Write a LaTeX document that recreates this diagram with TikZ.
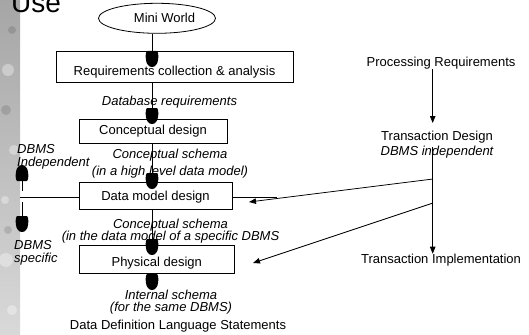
\documentclass[tikz,border=0pt]{standalone}
\usepackage{fontspec}
\setmainfont{Liberation Sans}
\usetikzlibrary{arrows.meta,shapes.geometric}
\begin{document}
\begin{tikzpicture}[x=1pt,y=-1pt,
  every node/.style={font=\fontsize{13}{15}\selectfont, inner sep=0pt, text=black},
  stepbox/.style={draw=black, line width=0.9pt, fill=white, text height=9.4pt, text depth=2.7pt},
  conn/.style={draw=black, line width=0.8pt},
  tri/.style={conn, -{Triangle[length=7pt,width=5.5pt]}},
  lbl/.style={font=\fontsize{13}{12.5}\selectfont\itshape, align=center},
  blob/.pic={\fill[black] (-4.5,-16) -- (4.5,-16) .. controls (6.3,-16) and (6.5,-12) .. (6.2,-8)
      .. controls (5.8,-3) and (3.2,0) .. (0,0) .. controls (-3.2,0) and (-5.8,-3) .. (-6.2,-8)
      .. controls (-6.5,-12) and (-6.3,-16) .. (-4.5,-16) -- cycle;}
]
\useasboundingbox (0,0) rectangle (529,334);
% background strip
\shade[top color=gray!70, bottom color=gray!30] (0,0) rectangle (20,334);
\fill[white, opacity=0.35] (8,70) circle (6) (14,150) circle (5) (6,260) circle (7) (12,310) circle (5) (5,200) circle (4);
\fill[black, opacity=0.12] (6,110) circle (5) (12,30) circle (4) (8,230) circle (4);

\node[font=\fontsize{28}{28}\selectfont, anchor=base west] (use) at (11,12.3) {Use};

% divider line
\coordinate (divl) at (20,197);
\coordinate (divr) at (277,197);
\draw[conn] (divl) -- (divr);

% main column
\node[draw, ellipse, line width=0.8pt, fill=white, minimum width=117pt, minimum height=30pt] (mw) at (157,18.3) {\hspace*{15pt}Mini World};
\node[stepbox, minimum width=237pt, minimum height=31pt, text height=20.4pt] (req) at (174.5,66.5) {Requirements collection \& analysis};
\node[lbl] (dbreq) at (169.5,102) {Database requirements};
\node[stepbox, minimum width=148pt, minimum height=24pt] (conc) at (153,131) {Conceptual design};
\node[lbl, font=\fontsize{13}{16.5}\selectfont\itshape] (cs1) at (170,163.5) {Conceptual schema\\(in a high level data model)};
\node[stepbox, minimum width=153pt, minimum height=27pt, text height=12.4pt] (dm) at (155.5,195.5) {Data model design};
\node[lbl] (cs2) at (170.5,231) {Conceptual schema\\(in the data model of a specific DBMS};
\node[stepbox, minimum width=155.5pt, minimum height=28pt, text height=17.4pt] (phys) at (156.75,259) {Physical design};
\node[lbl] (isch) at (171,302) {Internal schema\\(for the same DBMS)};
\node (ddl) at (178,326) {Data Definition Language Statements};

% left labels
\node[lbl, align=left, anchor=west] (indep) at (17,157) {DBMS\\Independent};
\node[lbl, align=left, anchor=west] (spec) at (14,253) {DBMS\\specific};

% main connectors
\coordinate (cx) at (152,0);
\coordinate (ddlin) at (152,290);
\draw[conn] (mw.south -| cx) -- (req.north -| cx);
\draw[conn] (req.south -| cx) -- (conc.north -| cx);
\draw[conn] (conc.south -| cx) -- (dm.north -| cx);
\draw[conn] (dm.south -| cx) -- (phys.north -| cx);
\draw[conn] (phys.south -| cx) -- (ddlin);
\pic at (152,67) {blob};
\pic at (152,124) {blob};
\pic at (152,189) {blob};
\pic at (152,255) {blob};
\pic at (ddlin) {blob};

% left arrows
\coordinate (upfrom) at (22,190.5);
\coordinate (upto) at (22,165);
\coordinate (dnfrom) at (22,202);
\coordinate (dnto) at (22,232);
\draw[conn] (upfrom) -- (upto);
\draw[conn] (dnfrom) -- (dnto);
\pic[rotate=180] at (upto) {blob};
\pic at (dnto) {blob};

% right side
\node (pr) at (441,63) {Processing Requirements};
\node[align=center, font=\fontsize{13}{14.7}\selectfont] (td) at (437,144.3) {Transaction Design\\\itshape DBMS independent};
\node (ti) at (441,260) {Transaction Implementation};
\coordinate (tx) at (432.7,0);
\coordinate (tdin) at (432.7,123);
\coordinate (tdout) at (432.7,147);
\coordinate (b1) at (433,179);
\coordinate (b2) at (433,203);
\coordinate (dmin) at (249,202);
\coordinate (physin) at (253,263);
\draw[tri] (pr.south -| tx) -- (tdin);
\draw[tri] (tdout) -- (ti.north -| tx);
\draw[tri] (b1) -- (dmin);
\draw[tri] (b2) -- (physin);
\end{tikzpicture}
\end{document}
